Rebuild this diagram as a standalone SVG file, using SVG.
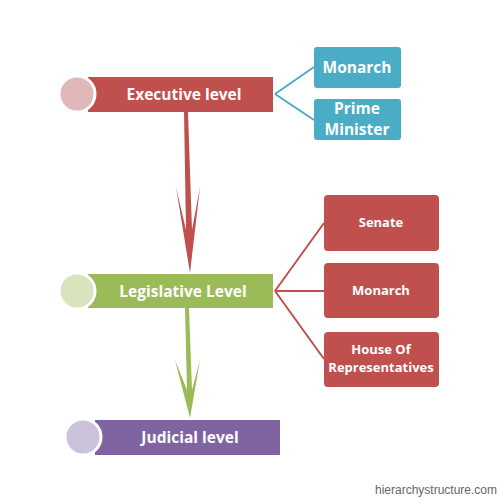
<svg xmlns="http://www.w3.org/2000/svg" width="500" height="500" viewBox="0 0 500 500">
<style>
.lbl{font-family:"Open Sans","Liberation Sans",sans-serif;font-weight:bold;fill:#fff;text-anchor:middle}
.big{font-size:15.5px}
.sm{font-size:13px}
.bl{font-size:15.5px}
.dot{stroke:#fff;stroke-width:3}
</style>
<rect width="500" height="500" fill="#fff"/>
<g id="connectors" fill="none" stroke-width="2">
<path d="M275 94 L314 67 M275 94 L314 120" stroke="#4BACC6"/>
<path d="M275 291 L324 223 M275 291 L324 291 M275 291 L324 359" stroke="#C0504D"/>
<path d="M184 112 L188 112 L192 230 L200 187 L190 273 L176 187 L186 230 Z" fill="#C0504D" stroke="none"/>
<path d="M185 308 L189 308 L192 390 L200 360 L190 418 L175 360 L187 390 Z" fill="#9BBB59" stroke="none"/>
</g>
<g id="executive">
<rect x="88" y="77" width="185" height="35" fill="#C0504D"/>
<circle cx="77" cy="94" r="18" fill="#E0B8BA" class="dot"/>
<text x="184" y="100" class="lbl big">Executive level</text>
</g>
<g id="monarch1">
<rect x="314" y="47" width="87" height="41" rx="3" fill="#4BACC6"/>
<text x="357" y="73" class="lbl bl">Monarch</text>
</g>
<g id="primeminister">
<rect x="314" y="99" width="87" height="41" rx="3" fill="#4BACC6"/>
<text x="357" y="114" class="lbl bl">Prime</text>
<text x="357" y="135" class="lbl bl">Minister</text>
</g>
<g id="legislative">
<rect x="88" y="274" width="185" height="34" fill="#9BBB59"/>
<circle cx="77" cy="291" r="18" fill="#D7E4BD" class="dot"/>
<text x="183" y="297" class="lbl big">Legislative Level</text>
</g>
<g id="senate">
<rect x="324" y="195" width="115" height="56" rx="4" fill="#C0504D"/>
<text x="381" y="227" class="lbl sm">Senate</text>
</g>
<g id="monarch2">
<rect x="324" y="263" width="115" height="55" rx="4" fill="#C0504D"/>
<text x="381" y="295" class="lbl sm">Monarch</text>
</g>
<g id="house">
<rect x="324" y="332" width="115" height="55" rx="4" fill="#C0504D"/>
<text x="381" y="354" class="lbl sm">House Of</text>
<text x="381" y="372" class="lbl sm">Representatives</text>
</g>
<g id="judicial">
<rect x="95" y="420" width="185" height="35" fill="#8064A2"/>
<circle cx="83" cy="437" r="18" fill="#CCC1DA" class="dot"/>
<text x="190" y="443" class="lbl big">Judicial level</text>
</g>
<text x="497" y="494" font-family="Liberation Sans,Arial,sans-serif" font-size="12" fill="#666" text-anchor="end">hierarchystructure.com</text>
</svg>
